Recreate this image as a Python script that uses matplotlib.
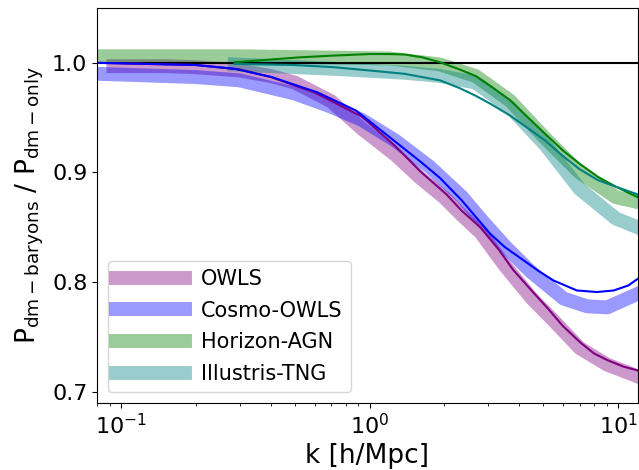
import numpy as np
import matplotlib
matplotlib.use("Agg")
import matplotlib.pyplot as plt

# simulation bands
owls_k = [0.093, 0.15, 0.2, 0.3, 0.4, 0.5, 0.7, 0.93, 1.27, 1.6, 2.0, 2.35, 2.8, 3.5, 4.5, 5.5, 7.0, 9.0, 12.0]
owls_band = [0.997, 0.997, 0.996, 0.993, 0.988, 0.982, 0.965, 0.940, 0.916, 0.895, 0.877, 0.861, 0.845,
             0.815, 0.785, 0.765, 0.740, 0.725, 0.714]

cosmo_k = [0.08, 0.2, 0.3, 0.5, 0.7, 0.93, 1.27, 1.75, 2.35, 2.79, 3.5, 4.43, 6.04, 7.5, 9.04, 11.9]
cosmo_band = [0.990, 0.987, 0.984, 0.972, 0.960, 0.948, 0.929, 0.905, 0.878, 0.858, 0.833, 0.810, 0.785,
              0.778, 0.777, 0.789]

hagn_k = [0.08, 0.3, 0.6, 1.2, 1.92, 2.67, 3.67, 5.1, 7.0, 9.8, 12.0]
hagn_band = [1.006, 1.006, 1.005, 1.004, 0.9985, 0.988, 0.9656, 0.931, 0.900, 0.8775, 0.873]

tng_k = [0.286, 0.72, 1.38, 1.92, 2.67, 3.67, 5.1, 7.0, 9.8, 12.0]
tng_band = [0.9985, 0.9945, 0.991, 0.988, 0.982, 0.9595, 0.925, 0.885, 0.858, 0.850]

# model lines
owls_line_k = [0.08, 0.2, 0.3, 0.4, 0.6, 0.93, 1.27, 1.6, 2.04, 2.35, 2.79, 3.3, 3.79, 4.5, 5.17, 6.0,
               7.05, 8.0, 9.04, 10.5, 12.0]
owls_line = [1.0, 0.998, 0.994, 0.987, 0.973, 0.951, 0.924, 0.901, 0.880, 0.865, 0.850, 0.830, 0.811,
             0.792, 0.777, 0.760, 0.745, 0.735, 0.729, 0.723, 0.7195]

cosmo_line_k = [0.08, 0.2, 0.287, 0.404, 0.617, 0.881, 1.27, 1.6, 1.92, 2.35, 3.06, 3.5, 4.16, 4.8, 5.5,
                6.83, 8.23, 9.6, 11.0, 12.0]
cosmo_line = [1.0, 0.998, 0.9945, 0.987, 0.973, 0.9565, 0.928, 0.910, 0.895, 0.8745, 0.844, 0.832, 0.820,
              0.810, 0.8015, 0.7924, 0.791, 0.7924, 0.797, 0.803]

hagn_line_k = [0.286, 0.4, 0.524, 0.7, 1.0, 1.2, 1.38, 1.63, 1.92, 2.3, 2.67, 3.1, 3.67, 4.3, 5.1, 6.0,
               7.0, 8.3, 9.8, 12.0]
hagn_line = [1.0005, 1.003, 1.005, 1.0065, 1.008, 1.008, 1.0076, 1.005, 1.0005, 0.994, 0.988, 0.978,
             0.966, 0.951, 0.935, 0.920, 0.908, 0.896, 0.887, 0.8775]

tng_line_k = [0.286, 0.5, 0.72, 1.0, 1.38, 1.92, 2.3, 2.67, 3.1, 3.67, 4.3, 5.1, 6.0, 7.0, 8.3, 9.8, 12.0]
tng_line = [0.999, 0.998, 0.996, 0.993, 0.990, 0.984, 0.977, 0.970, 0.962, 0.952, 0.941, 0.929, 0.915,
            0.903, 0.893, 0.887, 0.880]

fig = plt.figure(figsize=(6.39, 4.70), dpi=100)
ax = fig.add_axes([0.152, 0.143, 0.846, 0.840])

ax.plot(owls_k, owls_band, color="purple", lw=10, alpha=0.4, label="OWLS")
ax.plot(cosmo_k, cosmo_band, color="blue", lw=10, alpha=0.4, label="Cosmo-OWLS")
ax.plot(hagn_k, hagn_band, color="green", lw=10, alpha=0.4, label="Horizon-AGN")
ax.plot(tng_k, tng_band, color="teal", lw=10, alpha=0.4, label="Illustris-TNG")

ax.axhline(1.0, color="black", lw=1.5)

ax.plot(owls_line_k, owls_line, color="purple", lw=1.5)
ax.plot(cosmo_line_k, cosmo_line, color="blue", lw=1.5)
ax.plot(hagn_line_k, hagn_line, color="green", lw=1.5)
ax.plot(tng_line_k, tng_line, color="teal", lw=1.5)

ax.set_xscale("log")
ax.set_xlim(0.08, 12)
ax.set_ylim(0.69, 1.05)
ax.set_yticks([0.7, 0.8, 0.9, 1.0])
ax.tick_params(labelsize=16)

ax.set_xlabel("k [h/Mpc]", fontsize=19)
ax.set_ylabel(r"$\mathrm{P_{dm-baryons}}$ / $\mathrm{P_{dm-only}}$", fontsize=19)

ax.legend(loc="lower left", fontsize=15, handlelength=3.3, labelspacing=0.56)

fig.savefig("out.png", dpi=100)
